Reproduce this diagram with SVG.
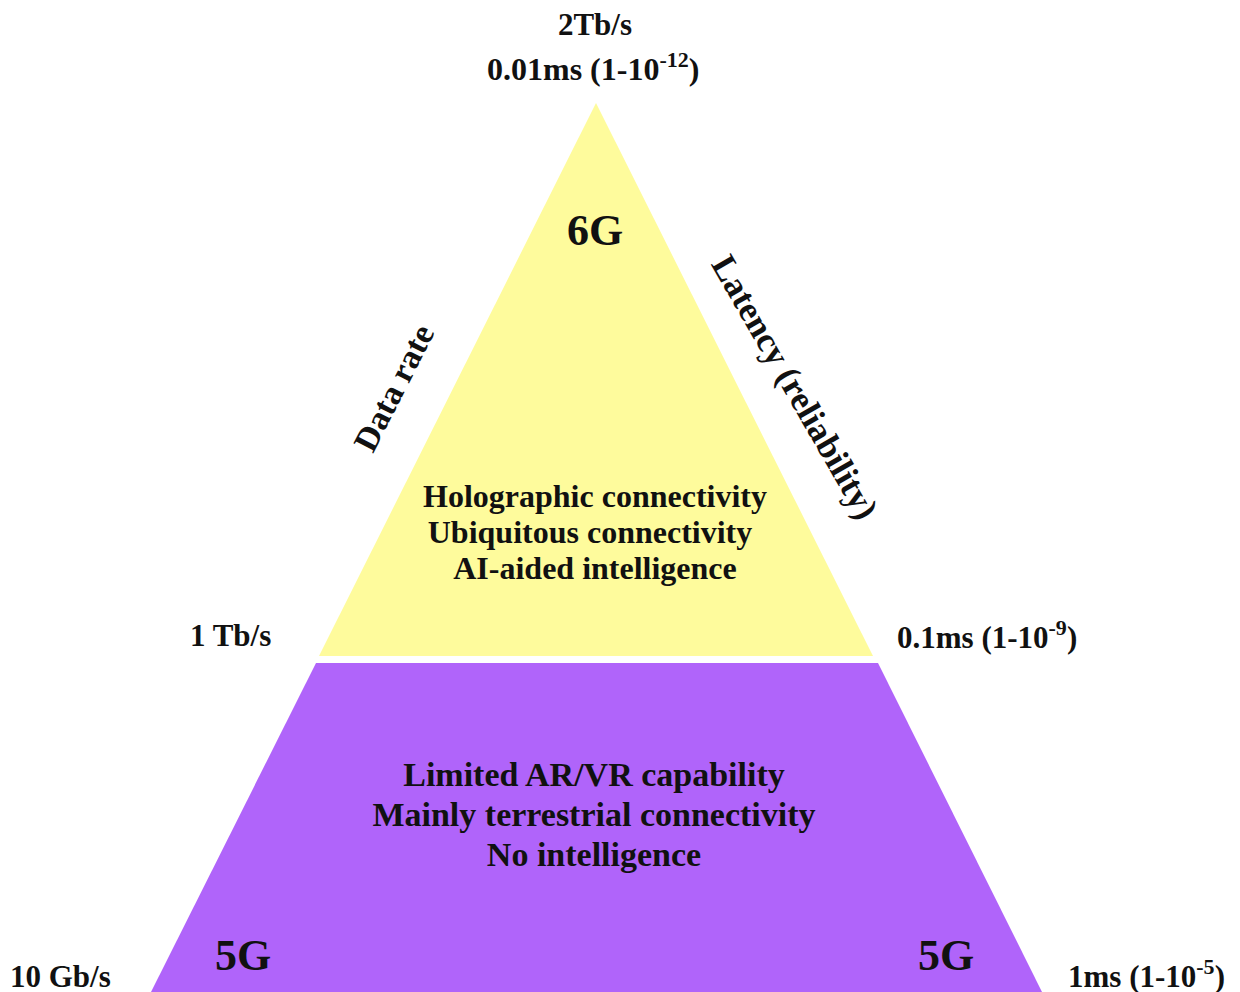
<svg xmlns="http://www.w3.org/2000/svg" width="1240" height="992" viewBox="0 0 1240 992">
<style>
text{font-family:"Liberation Serif","Times New Roman",serif;font-weight:bold;fill:#111;}
.c{text-anchor:middle;}
.lbl{font-size:31px;}
.mid{font-size:32px;}
.low{font-size:34px;}
.big{font-size:44px;}
.axis{font-size:34px;}
.sup{font-size:22px;}
</style>
<rect width="1240" height="992" fill="#ffffff"/>
<g id="tier-6g">
<polygon points="596,103 319,656 873,656" fill="#FEFB9C"/>
<text class="big c" x="595" y="245">6G</text>
<text class="mid c" x="595" y="507">Holographic connectivity</text>
<text class="mid c" x="590" y="543">Ubiquitous connectivity</text>
<text class="mid c" x="595" y="579">AI-aided intelligence</text>
</g>
<g id="tier-5g">
<polygon points="316,663 878,663 1042,992 151,992" fill="#B064FA"/>
<text class="low c" x="594" y="786">Limited AR/VR capability</text>
<text class="low c" x="594" y="826">Mainly terrestrial connectivity</text>
<text class="low c" x="594" y="866">No intelligence</text>
<text class="big" x="215" y="970">5G</text>
<text class="big" x="918" y="970">5G</text>
</g>
<g id="labels">
<text class="lbl c" x="595" y="35">2Tb/s</text>
<text class="mid" x="487" y="80">0.01ms (1-10<tspan class="sup" dy="-13">-12</tspan><tspan dy="13">)</tspan></text>
<text class="lbl" x="190" y="646">1 Tb/s</text>
<text class="lbl" x="897" y="648">0.1ms (1-10<tspan class="sup" dy="-13">-9</tspan><tspan dy="13">)</tspan></text>
<text class="lbl" x="10" y="987">10 Gb/s</text>
<text class="lbl" x="1068" y="987">1ms (1-10<tspan class="sup" dy="-13">-5</tspan><tspan dy="13">)</tspan></text>
<text class="axis c" transform="translate(404,393) rotate(-63)">Data rate</text>
<text class="axis c" style="font-size:35px" transform="translate(785,393) rotate(60)">Latency (reliability)</text>
</g>
<g id="connectors"></g>
</svg>
